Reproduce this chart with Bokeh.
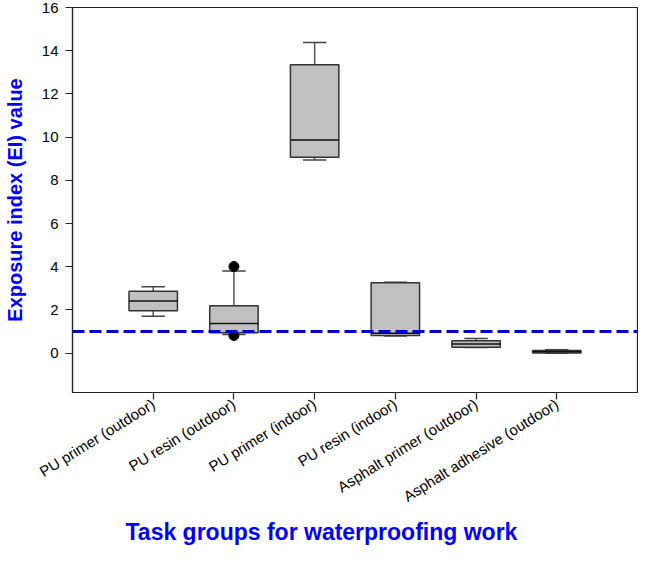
from bokeh.plotting import figure
from bokeh.models import Range1d, FixedTicker, Span, ColumnDataSource, Title
from bokeh.embed import file_html
from bokeh.resources import INLINE
import math

categories = ["PU primer (outdoor)", "PU resin (outdoor)", "PU primer (indoor)",
              "PU resin (indoor)", "Asphalt primer (outdoor)", "Asphalt adhesive (outdoor)"]
positions = [1, 2, 3, 4, 5, 6]
lower = [1.71, 0.86, 8.94, 0.80, 0.26, 0.00]
q1 = [1.96, 0.94, 9.07, 0.82, 0.27, 0.01]
median = [2.41, 1.37, 9.87, 0.92, 0.42, 0.07]
q3 = [2.87, 2.20, 13.35, 3.26, 0.57, 0.12]
upper = [3.08, 3.80, 14.38, 3.28, 0.68, 0.16]
outlier_x = [2, 2]
outlier_y = [4.01, 0.82]
threshold = 1.0
y_ticks = [0, 2, 4, 6, 8, 10, 12, 14, 16]
x_title = "Task groups for waterproofing work"
y_title = "Exposure index (EI) value"

BOX_W = 0.6
CAP_W = 0.29

p = figure(width=638, height=546, output_backend="svg", toolbar_location=None,
           x_range=Range1d(0, 7), y_range=Range1d(-1.82, 16.0),
           min_border_left=72, min_border_right=1, min_border_top=7, min_border_bottom=150)

src = ColumnDataSource(dict(x=positions, lower=lower, q1=q1, median=median, q3=q3, upper=upper,
                            cl=[v - CAP_W / 2 for v in positions], cr=[v + CAP_W / 2 for v in positions],
                            ml=[v - BOX_W / 2 for v in positions], mr=[v + BOX_W / 2 for v in positions]))

# whiskers
p.segment(x0="x", y0="q3", x1="x", y1="upper", source=src, line_color="#555555", line_width=1.5)
p.segment(x0="x", y0="lower", x1="x", y1="q1", source=src, line_color="#555555", line_width=1.5)
p.segment(x0="cl", y0="upper", x1="cr", y1="upper", source=src, line_color="#444444", line_width=1.5)
p.segment(x0="cl", y0="lower", x1="cr", y1="lower", source=src, line_color="#444444", line_width=1.5)
# boxes
p.vbar(x="x", width=BOX_W, bottom="q1", top="q3", source=src,
       fill_color="#c0c0c0", line_color="#333333", line_width=1.5)
p.segment(x0="ml", y0="median", x1="mr", y1="median", source=src, line_color="#111111", line_width=1.5)
# outliers
p.scatter(outlier_x, outlier_y, size=10, color="black")

p.add_layout(Span(location=threshold, dimension="width", line_color="#0000CC",
                  line_width=3, line_dash="12 5"))

p.xgrid.visible = False
p.ygrid.visible = False
p.outline_line_color = "#222222"
p.outline_line_width = 1.2

font = "Liberation Sans"
p.xaxis.ticker = FixedTicker(ticks=positions)
p.xaxis.major_label_overrides = {pos: c for pos, c in zip(positions, categories)}
p.xaxis.major_label_orientation = math.radians(32)
p.yaxis.ticker = FixedTicker(ticks=y_ticks)
for ax in (p.xaxis, p.yaxis):
    ax.axis_line_color = "#222222"
    ax.axis_line_width = 1.2
    ax.major_tick_line_color = "#222222"
    ax.major_tick_line_width = 1.2
    ax.major_tick_out = 7
    ax.major_tick_in = 0
    ax.minor_tick_line_color = None
    ax.major_label_text_font = font
    ax.major_label_text_color = "black"

p.xaxis.major_label_text_font_size = "15px"
p.xaxis.major_label_standoff = 3
p.yaxis.major_label_text_font_size = "15px"
p.yaxis.major_label_standoff = 7

p.yaxis.axis_label = y_title
p.yaxis.axis_label_text_font = font
p.yaxis.axis_label_text_font_style = "bold"
p.yaxis.axis_label_text_font_size = "20px"
p.yaxis.axis_label_text_color = "#0000FF"
p.yaxis.axis_label_standoff = 13

p.add_layout(Title(text=x_title, align="left", offset=53, vertical_align="bottom",
                   standoff=4, text_font=font, text_font_style="bold",
                   text_font_size="23px", text_color="#0000FF"), "below")

open("out.html", "w").write(file_html(p, INLINE))
